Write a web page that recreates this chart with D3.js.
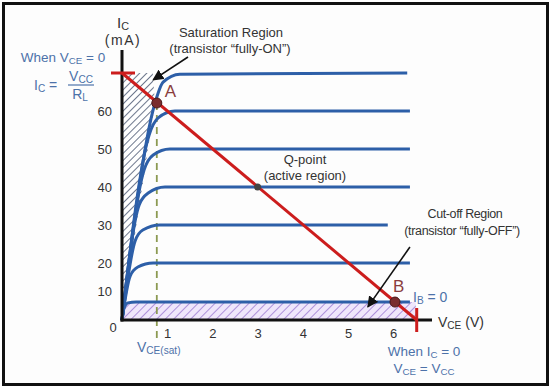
<!DOCTYPE html>
<html>
<head>
<meta charset="utf-8">
<script src="https://cdn.jsdelivr.net/npm/d3@7"></script>
<style>
  body { margin: 0; background: #fff; }
  svg { display: block; font-family: Arial, "Liberation Sans", sans-serif; }
  .tick text { font-size: 13px; fill: #333; }
  .curve { fill: none; stroke: #2d5fa8; stroke-width: 3; stroke-linejoin: round; }
  .blue { fill: #4d72a9; }
  .dark { fill: #333; }
</style>
</head>
<body>
<svg id="chart" width="552" height="388"></svg>
<script>
// axis ticks
const xTicks = [1, 2, 3, 4, 5, 6];
const yTicks = [10, 20, 30, 40, 50, 60];

// load line end points (V, mA)
const vcc = 6.52;
const icMax = 70;

// output characteristic curves, one per base current [VCE, IC]
const curveTop = [[0, 0], [0.73, 62.1], [0.91, 67.6], [1.28, 69.7], [6.31, 70]];
const curve60 = [[0, 0], [0.6, 53.7], [0.8, 58.2], [1.17, 60], [6.37, 60]];
const curve50 = [[0, 0], [0.49, 44.5], [0.69, 48.4], [1.06, 50], [6.37, 50]];
const curve40 = [[0, 0], [0.38, 35.3], [0.58, 38.4], [0.95, 40], [6.37, 40]];
const curve30 = [[0, 0], [0.29, 25.8], [0.46, 28.7], [0.84, 30], [5.88, 30]];
const curve20 = [[0, 0], [0.18, 15.4], [0.35, 18.6], [0.69, 20], [6.37, 20]];
const curveIb0 = [[0, 0], [0.04, 3.9], [0.13, 6], [0.31, 6.3], [6.37, 6.3]];

// shaded regions
const saturationArea = [[0, 0], [0, 70], [0.68, 70], [0.73, 62]];
const cutoffArea = [[0, 0], [0, 6.3], [6.5, 6.3], [6.5, 0]];

// operating points
const pointA = [0.77, 62.1];
const pointQ = [3.0, 40];
const pointB = [6.04, 6.3];
const vceSat = 0.77;

const svg = d3.select("#chart");

const x = d3.scaleLinear().domain([0, 7]).range([122, 122 + 7 * 45.2]);
const y = d3.scaleLinear().domain([0, 20, 70]).range([320, 263, 73]);

const defs = svg.append("defs");
const hatchA = defs.append("pattern")
  .attr("id", "hatchSat")
  .attr("patternUnits", "userSpaceOnUse")
  .attr("width", 5).attr("height", 5)
  .attr("patternTransform", "rotate(45)");
hatchA.append("rect").attr("width", 5).attr("height", 5).attr("fill", "#fff");
hatchA.append("line").attr("x1", 0).attr("y1", 0).attr("x2", 0).attr("y2", 5)
  .attr("stroke", "#2f3d5c").attr("stroke-width", 1.4);

const hatchB = defs.append("pattern")
  .attr("id", "hatchCut")
  .attr("patternUnits", "userSpaceOnUse")
  .attr("width", 6).attr("height", 6)
  .attr("patternTransform", "rotate(45)");
hatchB.append("rect").attr("width", 6).attr("height", 6).attr("fill", "#efe6fb");
hatchB.append("line").attr("x1", 0).attr("y1", 0).attr("x2", 0).attr("y2", 6)
  .attr("stroke", "#8a63c8").attr("stroke-width", 1.3);

const arrowHead = defs.append("marker")
  .attr("id", "arrow")
  .attr("viewBox", "0 0 10 10")
  .attr("refX", 9).attr("refY", 5)
  .attr("markerWidth", 7).attr("markerHeight", 7)
  .attr("orient", "auto");
arrowHead.append("path").attr("d", "M0,0 L10,5 L0,10 Z").attr("fill", "#111");

// frame
svg.append("rect")
  .attr("x", 3.5).attr("y", 3.5).attr("width", 544).attr("height", 381)
  .attr("fill", "#fdfdfd").attr("stroke", "#111").attr("stroke-width", 3);

const area = d3.line().x(d => x(d[0])).y(d => y(d[1]));

svg.append("path").datum(saturationArea)
  .attr("d", d => area(d) + "Z")
  .attr("fill", "url(#hatchSat)");

svg.append("path").datum(cutoffArea)
  .attr("d", d => area(d) + "Z")
  .attr("fill", "url(#hatchCut)");

// VCE(sat) dashed line
svg.append("line")
  .attr("x1", x(vceSat)).attr("x2", x(vceSat))
  .attr("y1", y(pointA[1])).attr("y2", 338)
  .attr("stroke", "#8c9a52").attr("stroke-width", 1.8)
  .attr("stroke-dasharray", "7,5");

// characteristic curves
const curveLine = d3.line()
  .x(d => x(d[0])).y(d => y(d[1]))
  .curve(d3.curveMonotoneX);

svg.selectAll(".curve")
  .data([curveTop, curve60, curve50, curve40, curve30, curve20, curveIb0])
  .enter().append("path")
  .attr("class", "curve")
  .attr("d", curveLine);

// axes
svg.append("line")
  .attr("x1", x(0)).attr("x2", x(0)).attr("y1", 50).attr("y2", y(0) + 1.5)
  .attr("stroke", "#111").attr("stroke-width", 3);
svg.append("line")
  .attr("x1", x(0) - 1.5).attr("x2", 432).attr("y1", y(0)).attr("y2", y(0))
  .attr("stroke", "#111").attr("stroke-width", 3);

const xAxis = svg.append("g")
  .attr("transform", `translate(0,${y(0)})`)
  .call(d3.axisBottom(x).tickValues(xTicks).tickFormat(d3.format("d")).tickSize(0).tickPadding(9));
xAxis.select(".domain").remove();

const yAxis = svg.append("g")
  .attr("transform", `translate(${x(0)},0)`)
  .call(d3.axisLeft(y).tickValues(yTicks).tickFormat(d3.format("d")).tickSize(0).tickPadding(10));
yAxis.select(".domain").remove();
svg.selectAll(".tick text").attr("font-family", null).attr("font-size", null);

svg.append("text")
  .attr("x", x(0) - 9).attr("y", y(0) + 12)
  .attr("text-anchor", "middle")
  .attr("class", "dark").attr("font-size", 13)
  .text("0");

// load line
const red = "#cc1d1d";
svg.append("line")
  .attr("x1", x(0)).attr("y1", y(icMax)).attr("x2", x(vcc)).attr("y2", y(0))
  .attr("stroke", red).attr("stroke-width", 3);
svg.append("line")
  .attr("x1", x(0) - 11).attr("x2", x(0) + 13).attr("y1", y(icMax)).attr("y2", y(icMax))
  .attr("stroke", red).attr("stroke-width", 3);
svg.append("line")
  .attr("x1", x(vcc)).attr("x2", x(vcc)).attr("y1", y(0) - 12).attr("y2", y(0) + 12)
  .attr("stroke", red).attr("stroke-width", 3);

// operating points
svg.append("circle")
  .attr("cx", x(pointA[0])).attr("cy", y(pointA[1])).attr("r", 5)
  .attr("fill", "#7a2e2e").attr("stroke", "#4a1818").attr("stroke-width", 1);
svg.append("circle")
  .attr("cx", x(pointB[0])).attr("cy", y(pointB[1])).attr("r", 5)
  .attr("fill", "#7a2e2e").attr("stroke", "#4a1818").attr("stroke-width", 1);
svg.append("circle")
  .attr("cx", x(pointQ[0])).attr("cy", y(pointQ[1])).attr("r", 3.5)
  .attr("fill", "#444");

svg.append("text").attr("x", x(pointA[0]) + 8).attr("y", 97)
  .attr("font-size", 17).attr("fill", "#8b3d3d").text("A");
svg.append("text").attr("x", x(pointB[0]) - 2).attr("y", 292)
  .attr("font-size", 17).attr("fill", "#8b3d3d").text("B");

// arrows
svg.append("line")
  .attr("x1", x(1.46)).attr("y1", y(74.2)).attr("x2", x(0.69)).attr("y2", y(68.2))
  .attr("stroke", "#111").attr("stroke-width", 1.6)
  .attr("marker-end", "url(#arrow)");
svg.append("line")
  .attr("x1", x(6.37)).attr("y1", y(24.2)).attr("x2", x(5.44)).attr("y2", y(4.6))
  .attr("stroke", "#111").attr("stroke-width", 1.6)
  .attr("marker-end", "url(#arrow)");

// text with subscripts: parts = [[text, isSub], ...]
function label(px, py, parts, opts) {
  const t = svg.append("text")
    .attr("x", px).attr("y", py)
    .attr("font-size", opts.size)
    .attr("text-anchor", opts.anchor || "start")
    .attr("class", opts.cls);
  parts.forEach(([s, sub]) => {
    t.append("tspan")
      .attr("font-size", sub ? opts.size * 0.72 : opts.size)
      .attr("baseline-shift", sub ? "-22%" : null)
      .text(s);
  });
  return t;
}

label(123, 28, [["I", false], ["C", true]], { size: 15, anchor: "middle", cls: "dark" });
label(123, 45, [["(mA)", false]], { size: 14, anchor: "middle", cls: "dark" })
  .attr("letter-spacing", 1.5);

label(63, 62, [["When V", false], ["CE", true], [" = 0", false]], { size: 13.5, anchor: "middle", cls: "blue" });
label(34, 90, [["I", false], ["C", true], [" =", false]], { size: 14, cls: "blue" });
label(81, 81, [["V", false], ["CC", true]], { size: 14, anchor: "middle", cls: "blue" });
svg.append("line").attr("x1", 68).attr("x2", 94).attr("y1", 85).attr("y2", 85)
  .attr("stroke", "#4d72a9").attr("stroke-width", 1.2);
label(80, 99, [["R", false], ["L", true]], { size: 14, anchor: "middle", cls: "blue" });

label(231, 37, [["Saturation Region", false]], { size: 13, anchor: "middle", cls: "dark" });
label(230, 53, [["(transistor \u201cfully-ON\u201d)", false]], { size: 13, anchor: "middle", cls: "dark" });

label(305, 164, [["Q-point", false]], { size: 13, anchor: "middle", cls: "dark" });
label(305, 180, [["(active region)", false]], { size: 13, anchor: "middle", cls: "dark" });

label(465, 218, [["Cut-off Region", false]], { size: 12.5, anchor: "middle", cls: "dark" })
  .attr("letter-spacing", -0.4);
label(462, 235, [["(transistor \u201cfully-OFF\u201d)", false]], { size: 12.5, anchor: "middle", cls: "dark" })
  .attr("letter-spacing", -0.3);

label(413, 302, [["I", false], ["B", true], [" = 0", false]], { size: 14, cls: "blue" });
label(438, 327, [["V", false], ["CE", true], [" (V)", false]], { size: 14, cls: "dark" });

label(424, 356, [["When I", false], ["C", true], [" = 0", false]], { size: 13.5, anchor: "middle", cls: "blue" });
label(424, 373, [["V", false], ["CE", true], [" = V", false], ["CC", true]], { size: 13.5, anchor: "middle", cls: "blue" });

label(137, 352, [["V", false], ["CE(sat)", true]], { size: 14, cls: "blue" });
</script>
</body>
</html>
